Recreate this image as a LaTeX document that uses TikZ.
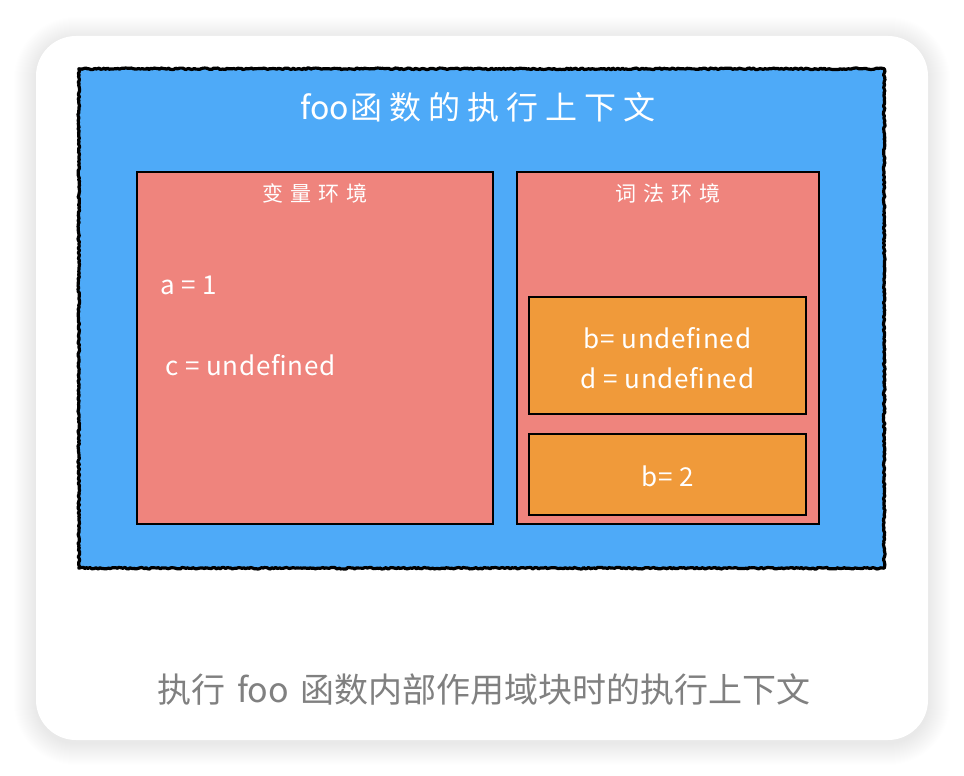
\documentclass[tikz,border=0pt]{standalone}
\usepackage{fontspec}
\setmainfont{Noto Sans CJK SC}
\usetikzlibrary{decorations.pathmorphing}
\definecolor{bluebg}{RGB}{78,170,248}
\definecolor{pinkbg}{RGB}{239,132,125}
\definecolor{orangebg}{RGB}{240,154,58}
\definecolor{captiongray}{RGB}{128,128,128}
\newcommand{\titlegap}{\hspace{7pt}}
\newcommand{\labelgap}{\hspace{7pt}}
\begin{document}
\begin{tikzpicture}[x=1pt,y=-1pt,
  box/.style={draw=black, line width=2.2pt, inner sep=0pt},
  wtext/.style={text=white, inner sep=0pt},
  lbl/.style={wtext, font=\fontsize{21}{25}\selectfont},
  val/.style={wtext, font=\fontsize{26}{32}\selectfont\addfontfeatures{LetterSpace=3}}]
\useasboundingbox (0,0) rectangle (964,776);
\fill[white] (0,0) rectangle (964,776);
% shadow
\foreach \i in {1,...,22}{
  \fill[black, opacity=0.005, rounded corners=40pt+\i pt] (36-\i,36-\i+3) rectangle (928+\i,740+\i+3);
}
% card
\node[fill=white, rounded corners=40pt, minimum width=892pt, minimum height=704pt, inner sep=0pt] (card) at (482,388) {};
% blue context box
\node[fill=bluebg, minimum width=805pt, minimum height=499pt, inner sep=0pt] (ctx) at (481.5,318.5) {};
\draw[line width=3.2pt, line join=round, decorate, decoration={random steps, segment length=1.8pt, amplitude=0.8pt}]
  (ctx.north west) -- (ctx.north east) -- (ctx.south east) -- (ctx.south west) -- cycle;
\node[wtext, font=\fontsize{32}{36}\selectfont] (title) at (478,107) {foo\hspace{2pt}函\titlegap 数\titlegap 的\titlegap 执\titlegap 行\titlegap 上\titlegap 下\titlegap 文};
% variable environment
\node[box, fill=pinkbg, minimum width=356pt, minimum height=352pt] (varenv) at (315,348) {};
\node[lbl] (varlbl) at (315,193) {变\labelgap 量\labelgap 环\labelgap 境};
\node[val, anchor=west] (a) at (160,285) {a = 1};
\node[val, anchor=west] (c) at (165,365) {c = undefined};
% lexical environment
\node[box, fill=pinkbg, minimum width=302pt, minimum height=352pt] (lexenv) at (668,348) {};
\node[lbl] (lexlbl) at (668,193) {词\labelgap 法\labelgap 环\labelgap 境};
\node[box, fill=orangebg, minimum width=277pt, minimum height=117pt] (blk1) at (667.5,355.5) {};
\node[val, align=center, font=\fontsize{26}{40}\selectfont\addfontfeatures{LetterSpace=3}] (blk1txt) at (667.5,358) {b= undefined\\d = undefined};
\node[box, fill=orangebg, minimum width=277pt, minimum height=81pt] (blk2) at (667.5,474.5) {};
\node[val] (blk2txt) at (667.5,476) {b= 2};
% caption
\node[text=captiongray, inner sep=0pt, font=\fontsize{34}{40}\selectfont] (caption) at (484,690) {执行\hspace{0.35em}foo\hspace{0.35em}函数内部作用域块时的执行上下文};
\end{tikzpicture}
\end{document}
